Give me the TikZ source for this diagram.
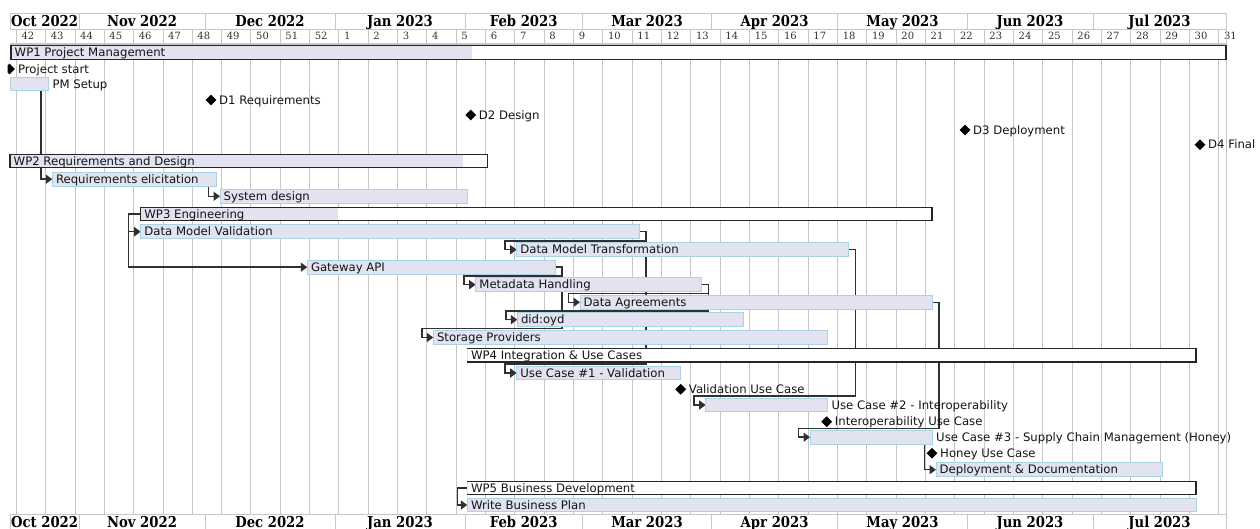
\documentclass[tikz,border=0pt]{standalone}
\usepackage{fontspec}
\setmainfont{DejaVu Sans}
\newfontfamily\hdrfont[FakeStretch=0.88]{DejaVu Serif}
\newfontfamily\wkfont{DejaVu Serif}
\usetikzlibrary{arrows.meta,shapes.geometric}

\definecolor{taskfill}{HTML}{E2E2F0}
\definecolor{taskedge}{HTML}{A8D4E4}
\definecolor{gridline}{HTML}{C6C6C6}
\definecolor{linkcol}{HTML}{303030}
\definecolor{wpedge}{HTML}{262626}

\pgfdeclarelayer{gridlayer}
\pgfdeclarelayer{linklayer}
\pgfsetlayers{gridlayer,linklayer,main}

\tikzset{
  taskbox/.style={draw=taskedge, fill=taskfill, line width=0.9pt, inner sep=0pt, outer sep=0pt, minimum height=13.7pt, anchor=west},
  wpbox/.style={draw=wpedge, fill=white, line width=1.2pt, inner sep=0pt, outer sep=0pt, minimum height=13.3pt, anchor=west},
  lbl/.style={anchor=west, inner sep=0pt, font=\fontsize{11.7}{14}\selectfont, text=black!92, text height=8.5pt, text depth=0pt},
  mstone/.style={diamond, fill=black, inner sep=0pt, minimum width=11pt, minimum height=11pt},
  link/.style={draw=linkcol, line width=1.5pt, -{Triangle[length=6.5pt,width=9pt]}},
  gridrule/.style={draw=gridline, line width=0.9pt},
  monthlbl/.style={font=\hdrfont\fontsize{15}{17}\selectfont\bfseries, inner sep=0pt, text height=11pt, text depth=0pt},
  weeklbl/.style={font=\wkfont\fontsize{10}{12}\selectfont, text=black!80, anchor=west, inner sep=0pt, text height=7.2pt, text depth=0pt},
}

% task bar with its label inside: name, start x, end x, row y, label
\newcommand\taskin[5]{%
  \node[taskbox, minimum width={#3-#2}] (#1) at (#2,#4) {};
  \node[lbl] (#1-l) at ({#2+3.5},#4) {#5};}
% task bar with its label after the bar
\newcommand\taskout[5]{%
  \node[taskbox, minimum width={#3-#2}] (#1) at (#2,#4) {};
  \node[lbl] (#1-l) at ({#3+4},#4) {#5};}
% work package bar: name, start x, end x, row y, end of completed part (or start x), label
\newcommand\wpbar[6]{%
  \node[wpbox, minimum width={#3-#2}] (#1) at (#2,#4) {};
  \fill[taskfill] ({#2+0.6},{#4-6.05}) rectangle (#5,{#4+6.05});
  \node[lbl] (#1-l) at ({#2+3.5},#4) {#6};}
% milestone: name, x, row y, label
\newcommand\mstone[4]{%
  \node[mstone] (#1) at (#2,#3) {};
  \node[lbl] (#1-l) at ({#2+8},#3) {#4};}
% dependency whose target starts before the source ends
\newcommand\linkover[2]{\draw[link] (#1.east) -- ++(7,0) |- ([shift={(-11.5pt,2pt)}]#2.north west) |- (#2.west);}
% dependency whose target starts after the source ends
\newcommand\linkunder[2]{\draw[link] ([xshift=-7.5pt]#1.south east) |- (#2.west);}
% work package start feeding its first tasks
\newcommand\linkgroup[3]{\draw[link] (#1.west) -- ++(-#3,0) |- (#2.west);}

\begin{document}
\begin{tikzpicture}[x=1pt,y=-1pt]
\useasboundingbox (0,0) rectangle (1260,529);

% ---- calendar header and week grid ----
\begin{pgfonlayer}{gridlayer}
\fill[white] (0,0) rectangle (1260,529);
\draw[gridrule] (10,13.3) -- (1226,13.3);
\draw[gridrule] (10,29) -- (1226,29);
\draw[gridrule] (10,514) -- (1226,514);
\foreach \k in {0,...,41} {
  \pgfmathsetmacro\xx{16.3+29.33*\k}
  \pgfmathtruncatemacro\wk{\k<11 ? 42+\k : \k-10}
  \draw[gridrule] (\xx,29) -- (\xx,514);
  \node[weeklbl] (wk\k) at ({\xx+5},36) {\wk};
}
\draw[gridrule] (1226,29) -- (1226,514);
\draw[draw=gridline, line width=1.8pt] (10,44.3) -- (1226,44.3);
\foreach \xx in {10,79.2,205,335,465,582.5,711.8,837.5,967.5,1093,1226} {
  \draw[gridrule] (\xx,13.3) -- (\xx,29);
  \draw[gridrule] (\xx,514) -- (\xx,529);
}
\foreach \c/\n [count=\i] in {44.6/Oct 2022, 142/Nov 2022, 270/Dec 2022, 400/Jan 2023,
    523.7/Feb 2023, 647/Mar 2023, 774.6/Apr 2023, 902.5/May 2023, 1030/Jun 2023, 1159.5/Jul 2023} {
  \node[monthlbl] (mt\i) at (\c,20.8) {\n};
  \node[monthlbl] (mb\i) at (\c,521.6) {\n};
}
\end{pgfonlayer}

% ---- work packages ----
\wpbar{wp1}{11}{1226}{52.5}{471.7}{WP1 Project Management}
\wpbar{wp2}{10}{487.7}{161.2}{463.3}{WP2 Requirements and Design}
\wpbar{wp3}{140.7}{932}{214}{337.7}{WP3 Engineering}
\wpbar{wp4}{467.3}{1196}{355.3}{467.3}{WP4 Integration \& Use Cases}
\wpbar{wp5}{467.3}{1196}{488}{467.3}{WP5 Business Development}

% ---- tasks ----
\taskout{pm}{10}{48.3}{84}{PM Setup}
\taskin{req}{52.3}{216}{179.2}{Requirements elicitation}
\taskin{sys}{220}{467.3}{196.3}{System design}
\taskin{dmv}{140.7}{639}{231.7}{Data Model Validation}
\taskin{dmt}{516.7}{848.3}{249.7}{Data Model Transformation}
\taskin{gw}{307.3}{555}{267.2}{Gateway API}
\taskin{mh}{475.7}{701.7}{284.7}{Metadata Handling}
\taskin{da}{580}{932}{302.3}{Data Agreements}
\taskin{did}{517.3}{743.3}{319.7}{did:oyd}
\taskin{sp}{433.3}{827.3}{337.5}{Storage Providers}
\taskin{uc1}{516.7}{680}{373}{Use Case \#1 - Validation}
\taskout{uc2}{705.7}{827.3}{405}{Use Case \#2 - Interoperability}
\taskout{uc3}{810}{932}{437.2}{Use Case \#3 - Supply Chain Management (Honey)}
\taskin{dep}{936}{1162}{469.7}{Deployment \& Documentation}
\taskin{wbp}{467.3}{1196}{505}{Write Business Plan}

% ---- milestones ----
\begin{scope}
  \clip (7.5,60) rectangle (30,80);
  \node[mstone] (ms0) at (9.5,69) {};
\end{scope}
\node[lbl] (ms0-l) at (17.8,69) {Project start};
\mstone{ms1}{211}{100}{D1 Requirements}
\mstone{ms2}{470.7}{115}{D2 Design}
\mstone{ms3}{965}{130}{D3 Deployment}
\mstone{ms4}{1200}{144.7}{D4 Final}
\mstone{msv}{680.7}{389.3}{Validation Use Case}
\mstone{msi}{826.7}{421.7}{Interoperability Use Case}
\mstone{msh}{932}{453.3}{Honey Use Case}

% ---- dependency links, kept beneath the bars ----
\begin{pgfonlayer}{linklayer}
\linkunder{pm}{req}
\linkunder{req}{sys}
\linkgroup{wp3}{dmv}{12}
\linkgroup{wp3}{gw}{12}
\linkover{dmv}{dmt}
\linkover{dmv}{uc1}
\linkover{gw}{mh}
\linkover{gw}{sp}
\linkover{mh}{da}
\linkover{mh}{did}
\linkover{dmt}{uc2}
\linkover{da}{uc3}
\linkunder{uc3}{dep}
\linkgroup{wp5}{wbp}{10}
\end{pgfonlayer}
\end{tikzpicture}
\end{document}
